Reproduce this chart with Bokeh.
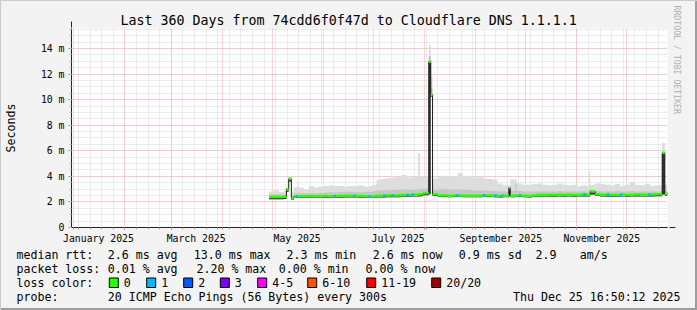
import bisect
from datetime import datetime, timedelta

from bokeh.plotting import figure
from bokeh.layouts import column, row
from bokeh.models import (Range1d, FixedTicker, Grid, Arrow, NormalHead, DatetimeTickFormatter, Title)
from bokeh.core.properties import value
from bokeh.embed import file_html
from bokeh.resources import INLINE

# ---------------- data ----------------
TITLE = "Last 360 Days from 74cdd6f0f47d to Cloudflare DNS 1.1.1.1"
END = datetime(2025, 12, 25, 16, 50, 12)
START = END - timedelta(days=360)
Y_MAX = 15.56

bin_starts = [
    "04-29", "05-02", "05-05", "05-08", "05-09 12:00", "05-10 22:00", "05-12 12:00", "05-14", "05-16 08:00", "05-17",
    "05-20", "05-23", "05-26", "05-29", "06-01", "06-04", "06-07", "06-10", "06-13", "06-16",
    "06-19", "06-22", "06-25", "06-28", "07-01", "07-03", "07-06", "07-09", "07-12", "07-15",
    "07-18", "07-21", "07-24", "07-28", "07-29 06:00", "07-31", "08-03 12:00", "08-04 17:00", "08-05 19:00", "08-09",
    "08-12", "08-15", "08-18", "08-21", "08-24", "08-27", "08-30", "09-02", "09-05", "09-08",
    "09-11", "09-14", "09-17", "09-20 21:00", "09-21 17:00", "09-24 20:00", "09-25 14:00", "09-29", "10-02", "10-05",
    "10-08", "10-11", "10-14", "10-17", "10-20", "10-23", "10-26", "10-29", "11-01", "11-04",
    "11-07", "11-08 06:00", "11-09", "11-12", "11-15", "11-18", "11-21", "11-24", "11-27", "11-30",
    "12-03", "12-06", "12-09", "12-12", "12-15", "12-18", "12-22 12:00", "12-24 02:00",
]
median_ms = [
    2.38, 2.38, 2.38, 2.40, 2.98, 3.80, 2.27, 2.43, 2.43, 2.44,
    2.44, 2.45, 2.43, 2.44, 2.46, 2.45, 2.44, 2.46, 2.48, 2.48,
    2.47, 2.46, 2.44, 2.43, 2.45, 2.48, 2.48, 2.50, 2.50, 2.51,
    2.53, 2.54, 2.56, 2.58, 2.60, 2.70, 12.96, 10.37, 2.60, 2.50,
    2.50, 2.48, 2.50, 2.50, 2.48, 2.48, 2.48, 2.48, 2.50, 2.50,
    2.48, 2.46, 2.48, 3.10, 2.48, 2.50, 2.50, 2.48, 2.46, 2.50,
    2.53, 2.53, 2.54, 2.54, 2.56, 2.54, 2.56, 2.54, 2.56, 2.58,
    2.53, 2.56, 2.82, 2.60, 2.56, 2.55, 2.54, 2.54, 2.55, 2.54,
    2.56, 2.58, 2.56, 2.56, 2.58, 2.60, 5.84, 2.64,
]
smoke_lo_ms = [
    2.20, 2.20, 2.20, 2.23, 2.80, 3.60, 2.16, 2.30, 2.30, 2.32,
    2.32, 2.32, 2.31, 2.32, 2.33, 2.33, 2.32, 2.33, 2.35, 2.35,
    2.34, 2.33, 2.32, 2.31, 2.33, 2.35, 2.35, 2.36, 2.36, 2.37,
    2.38, 2.40, 2.42, 2.43, 2.45, 2.53, 2.60, 10.22, 2.46, 2.38,
    2.38, 2.36, 2.38, 2.38, 2.36, 2.36, 2.36, 2.36, 2.38, 2.38,
    2.36, 2.34, 2.36, 2.42, 2.36, 2.38, 2.38, 2.36, 2.34, 2.38,
    2.40, 2.40, 2.41, 2.41, 2.42, 2.41, 2.42, 2.41, 2.42, 2.43,
    2.40, 2.42, 2.58, 2.46, 2.42, 2.41, 2.41, 2.41, 2.42, 2.41,
    2.42, 2.43, 2.42, 2.42, 2.43, 2.45, 2.58, 2.48,
]
smoke_mid_ms = [
    2.58, 2.60, 2.58, 2.60, 3.05, 3.90, 2.48, 2.65, 2.70, 2.68,
    2.66, 2.70, 2.68, 2.70, 2.74, 2.75, 2.74, 2.78, 2.80, 2.80,
    2.78, 2.76, 2.80, 2.80, 2.85, 2.90, 2.92, 2.92, 2.95, 2.95,
    3.00, 2.95, 2.95, 3.00, 3.00, 3.05, 13.40, 10.85, 2.95, 3.00,
    3.00, 3.00, 2.95, 3.00, 2.95, 2.95, 2.90, 2.90, 2.90, 2.85,
    2.85, 2.82, 2.82, 2.95, 2.85, 3.45, 2.85, 2.82, 2.82, 2.82,
    2.82, 2.82, 2.82, 2.82, 2.85, 2.82, 2.82, 2.82, 2.82, 2.82,
    2.82, 2.90, 2.95, 2.85, 2.82, 2.82, 2.82, 2.85, 2.82, 2.82,
    2.85, 2.82, 2.82, 2.82, 2.82, 2.82, 5.50, 2.85,
]
smoke_hi_ms = [
    2.82, 2.92, 2.78, 2.88, 3.15, 4.00, 2.82, 3.15, 3.55, 3.10,
    3.00, 3.25, 3.15, 3.20, 3.25, 3.30, 3.25, 3.25, 3.20, 3.25,
    3.25, 3.30, 3.20, 3.25, 3.35, 3.75, 3.80, 3.85, 3.90, 3.95,
    4.10, 3.90, 3.95, 5.80, 3.95, 3.95, 14.26, 11.75, 3.85, 3.95,
    4.05, 4.00, 3.95, 4.25, 4.05, 4.00, 3.90, 3.95, 3.85, 3.80,
    3.75, 3.45, 3.30, 3.25, 3.75, 3.75, 3.45, 3.35, 3.35, 3.40,
    3.45, 3.35, 3.30, 3.35, 3.45, 3.35, 3.30, 3.35, 3.25, 3.30,
    3.25, 4.40, 3.35, 3.45, 3.40, 3.35, 3.30, 3.40, 3.25, 3.35,
    3.55, 3.35, 3.30, 3.40, 3.25, 3.30, 6.60, 3.35,
]
# days with 1/20 packet loss
loss1_days = ["05-15", "06-07", "06-19", "06-28", "07-07", "07-12", "07-21", "07-24", "08-20",
              "09-05", "09-12", "09-16", "09-27", "11-05", "11-19", "11-27", "12-14"]

y_ticks = [0, 2, 4, 6, 8, 10, 12, 14]
y_tick_labels = ["0", "2 m", "4 m", "6 m", "8 m", "10 m", "12 m", "14 m"]
label_months = [1, 3, 5, 7, 9, 11]

stats_rtt = ["median rtt:", "2.6 ms avg", "13.0 ms max", "2.3 ms min", "2.6 ms now", "0.9 ms sd", "2.9", "am/s"]
stats_loss = ["packet loss:", "0.01 % avg", "2.20 % max", "0.00 % min", "0.00 % now"]
loss_names = ["0", "1", "2", "3", "4-5", "6-10", "11-19", "20/20"]
loss_colors = ["#26ff00", "#00b8ff", "#0059ff", "#7e00ff", "#ff00ff", "#ff5500", "#ff0000", "#a10000"]
probe_text = ["probe:", "20 ICMP Echo Pings (56 Bytes) every 300s"]
stamp = "Thu Dec 25 16:50:12 2025"
loss_label = "loss color:"
y_title = "Seconds"
side_note = "RRDTOOL / TOBI OETIKER"

# ---------------- helpers ----------------
EPOCH = datetime(1970, 1, 1)


def ems(dt):
    return (dt - EPOCH).total_seconds() * 1000.0


def parse(s):
    if " " not in s:
        s = s + " 00:00"
    return datetime.strptime("2025-" + s, "%Y-%m-%d %H:%M")


X0, X1 = ems(START), ems(END)


def px2x(px):
    return X0 + (px - 67) / 600.0 * (X1 - X0)


MONO = "DejaVu Sans Mono"
AXIS_COL = "#222222"
ARROW_COL = "#8b1a1a"
BG = "#f3f3f3"
MAIN_H = 246

# ---------------- main figure ----------------
p = figure(width=697, height=MAIN_H, x_axis_type="datetime",
           x_range=Range1d(X0, X1), y_range=Range1d(0, Y_MAX),
           output_backend="svg", toolbar_location=None,
           min_border_left=67, min_border_right=30, min_border_top=28, min_border_bottom=18,
           background_fill_color="white", border_fill_color=None,
           outline_line_color=None)

p.title.text = TITLE
p.title.align = "left"
p.title.offset = 49
p.title.standoff = 2
p.title.text_font = MONO
p.title.text_font_size = "13.3px"
p.title.text_font_style = "normal"
p.title.text_color = "#000000"

p.add_layout(Title(text=side_note, align="left", offset=-23, standoff=9, text_font=MONO,
                   text_font_size="8.2px", text_font_style="normal", text_color="#b0b0b0"), "right")

# grids
p.xgrid.visible = False
p.ygrid.visible = False
weeks = []
d = datetime(2025, 1, 4)
while d < END:
    weeks.append(ems(d))
    d += timedelta(days=7)
months = [ems(datetime(2025, m, 1)) for m in range(1, 13)]
GRAY_GRID = "#d8d8d8"
RED_GRID = "#f5acac"
p.add_layout(Grid(dimension=0, ticker=FixedTicker(ticks=weeks),
                  grid_line_color=GRAY_GRID, grid_line_dash="1 1"))
p.add_layout(Grid(dimension=1, ticker=FixedTicker(ticks=[i * 0.5 for i in range(32)]),
                  grid_line_color=GRAY_GRID, grid_line_dash="1 1"))
p.add_layout(Grid(dimension=0, ticker=FixedTicker(ticks=months),
                  grid_line_color=RED_GRID, grid_line_dash="1 1"))
p.add_layout(Grid(dimension=1, ticker=FixedTicker(ticks=y_ticks),
                  grid_line_color=RED_GRID, grid_line_dash="1 1"))

# data (step series)
xs = [ems(parse(s)) for s in bin_starts] + [X1]


def ext(a):
    return list(a) + [a[-1]]


p.varea_step(x=xs, y1=ext(smoke_lo_ms), y2=ext(smoke_hi_ms), step_mode="after", fill_color="#dddddd")
p.varea_step(x=xs, y1=ext(smoke_lo_ms), y2=ext(smoke_mid_ms), step_mode="after", fill_color="#c6c6c6")
p.varea_step(x=xs, y1=ext(smoke_lo_ms), y2=ext(median_ms), step_mode="after", fill_color="#333333")
p.step(x=xs, y=ext(median_ms), mode="after", line_color="#1a1a1a", line_width=1)
band = 0.1
p.varea_step(x=xs, y1=[m - band for m in ext(median_ms)], y2=[m + band for m in ext(median_ms)],
             step_mode="after", fill_color=loss_colors[0])

bins_x = xs[:-1]
ll, lr, lb, lt = [], [], [], []
for s in loss1_days:
    t = parse(s)
    i = bisect.bisect_right(bins_x, ems(t)) - 1
    m = median_ms[i]
    ll.append(ems(t)); lr.append(ems(t + timedelta(hours=36)))
    lb.append(m - band); lt.append(m + band)
p.quad(left=ll, right=lr, bottom=lb, top=lt, fill_color=loss_colors[1], line_color=None)

# axes
ya = p.yaxis[0]
ya.ticker = FixedTicker(ticks=y_ticks, minor_ticks=[i * 0.5 for i in range(32)])
ya.major_label_overrides = {t: lab for t, lab in zip(y_ticks, y_tick_labels)}
ya.major_label_text_font = MONO
ya.major_label_text_font_size = "9.8px"
ya.major_label_text_color = "#000000"
ya.major_tick_out = 3
ya.major_tick_in = 0
ya.major_tick_line_color = "#e06060"
ya.minor_tick_out = 2
ya.minor_tick_in = 0
ya.minor_tick_line_color = "#c0c0c0"
ya.major_label_standoff = 4
ya.axis_line_color = AXIS_COL
ya.axis_label = y_title
ya.axis_label_text_font = MONO
ya.axis_label_text_font_size = "11.6px"
ya.axis_label_text_font_style = "normal"
ya.axis_label_text_color = "#000000"
ya.axis_label_standoff = 20

xa = p.xaxis[0]
label_ticks = [ems(datetime(2025, m, 1) + timedelta(seconds=1296000)) for m in label_months]
xa.ticker = FixedTicker(ticks=label_ticks, minor_ticks=sorted(weeks + months))
fmt = "%B %Y"
xa.formatter = DatetimeTickFormatter(milliseconds=fmt, seconds=fmt, minsec=fmt, minutes=fmt,
                                     hourmin=fmt, hours=fmt, days=fmt, months=fmt, years=fmt)
xa.major_label_text_font = MONO
xa.major_label_text_font_size = "9.8px"
xa.major_label_text_color = "#000000"
xa.major_tick_line_color = None
xa.major_tick_out = 0
xa.major_tick_in = 0
xa.minor_tick_out = 2
xa.minor_tick_in = 0
xa.minor_tick_line_color = "#d09090"
xa.major_label_standoff = 3
xa.axis_line_color = AXIS_COL

# axis arrows
p.add_layout(Arrow(end=NormalHead(size=6, fill_color=ARROW_COL, line_color=ARROW_COL),
                   x_start=X0, y_start=Y_MAX, x_end=X0, y_end=Y_MAX * 207.0 / 200.0,
                   line_color=AXIS_COL, line_width=1))
p.add_layout(Arrow(end=NormalHead(size=6, fill_color=ARROW_COL, line_color=ARROW_COL),
                   x_start=X1, y_start=0, x_end=px2x(675), y_end=0,
                   line_color=AXIS_COL, line_width=1))

# ---------------- legend strip (bottom) ----------------
LEG_H = 310 - MAIN_H
leg = figure(width=697, height=LEG_H, x_range=Range1d(0, 697), y_range=Range1d(LEG_H, 0),
             output_backend="svg", toolbar_location=None, min_border=0,
             x_axis_location=None, y_axis_location=None,
             background_fill_color=None, border_fill_color=None, outline_line_color=None)
leg.grid.visible = False

TXT = dict(text_font=value(MONO), text_font_size="11.6px", text_color="#000000", text_baseline="middle")
row_y = [254.3 - MAIN_H, 268.3 - MAIN_H, 282.3 - MAIN_H, 296.0 - MAIN_H]
rtt_x = [16, 107.3, 193.3, 286, 372.3, 458.3, 535, 579.3]
leg.text(x=rtt_x, y=[row_y[0]] * len(rtt_x), text=stats_rtt, **TXT)
loss_x = [16, 107.3, 196, 278.3, 365]
leg.text(x=loss_x, y=[row_y[1]] * len(loss_x), text=stats_loss, **TXT)
sw_x = [108.3, 145.7, 182.7, 219.3, 256.7, 306.7, 365.7, 430.7]
leg.text(x=[16] + [v + 15 for v in sw_x], y=[row_y[2]] * (len(sw_x) + 1), text=[loss_label] + loss_names, **TXT)
leg.quad(left=[v + 0.5 for v in sw_x], right=[v + 9.5 for v in sw_x],
         top=[277.5 - MAIN_H] * len(sw_x), bottom=[287.0 - MAIN_H] * len(sw_x),
         fill_color=loss_colors, line_color="#000000", line_width=1)
leg.text(x=[16, 107.3], y=[row_y[3]] * 2, text=probe_text, **TXT)
leg.text(x=[680], y=[row_y[3]], text=[stamp], text_align="right", **TXT)

layout = column(p, row(leg, spacing=0), spacing=0,
                styles={"background-color": BG,
                        "box-shadow": "inset 1px 1px 0 #cbcbcb, inset -2px -2px 0 #9e9e9e"})
open("out.html", "w").write(file_html(layout, INLINE))
